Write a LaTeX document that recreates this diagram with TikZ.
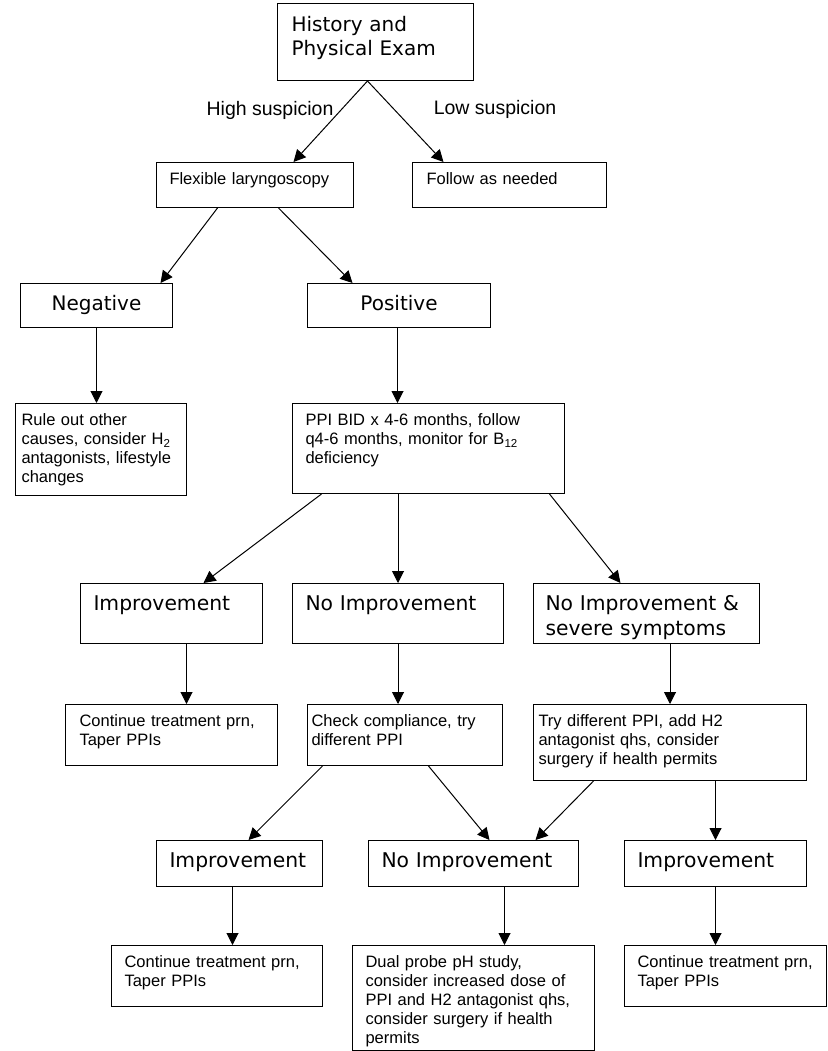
\documentclass[tikz,border=0pt]{standalone}
\usepackage{fontspec}
\setmainfont{Liberation Sans}
\newfontfamily\verd{DejaVu Sans}
\usetikzlibrary{arrows.meta}

\begin{document}
\begin{tikzpicture}[x=1pt,y=-1pt,line width=1pt,
  box/.style={draw,anchor=north west,inner xsep=13pt,inner ysep=0pt,align=left},
  small/.style={box,font=\fontsize{16.5}{19}\selectfont,text height=22pt},
  big/.style={box,font=\verd\fontsize{20.3}{25}\selectfont,text height=27pt},
  arr/.style={-{Triangle[length=12pt,width=12pt]}},
  lbl/.style={font=\fontsize{19.5}{23}\selectfont}]

\useasboundingbox (0,0) rectangle (827,1051);

% top
\node[big,font=\verd\fontsize{20}{24}\selectfont,inner xsep=14pt,text width=168pt,text height=28pt,text depth=49pt] (hist) at (277,3) {History and\\Physical Exam};
\node[lbl] (high) at (270,110) {High suspicion};
\node[lbl] (low) at (495,109) {Low suspicion};

\node[small,text width=171pt,text depth=23pt] (flex) at (156,162) {Flexible laryngoscopy};
\node[small,inner xsep=14pt,text width=166pt,text depth=23pt] (follow) at (412,162) {Follow as needed};

\node[big,align=center,font=\verd\fontsize{20}{24}\selectfont,text width=126pt,text depth=17pt] (neg) at (20,283) {Negative};
\node[big,align=center,font=\verd\fontsize{20}{24}\selectfont,text width=157pt,text depth=17pt] (pos) at (307,283) {Positive};

\node[small,inner xsep=6pt,text width=159pt,text depth=70pt] (rule) at (15,403) {Rule out other\\causes, consider H\textsubscript{2}\\antagonists, lifestyle\\changes};
\node[small,text width=246pt,text depth=68pt] (ppi) at (292,403) {PPI BID x 4-6 months, follow\\q4-6 months, monitor for B\textsubscript{12}\\deficiency};

% second level
\node[big,text width=156pt,text depth=33pt] (imp1) at (80,583) {Improvement};
\node[big,text width=185pt,text depth=33pt] (noimp1) at (292,583) {No Improvement};
\node[big,inner xsep=12pt,text width=202pt,text depth=33pt] (severe) at (533,583) {No Improvement \&\\severe symptoms};

\node[small,inner xsep=14pt,text width=184pt,text depth=39pt] (cont1) at (65,704) {Continue treatment prn,\\Taper PPIs};
\node[small,inner xsep=4pt,text width=187pt,text depth=39pt] (check) at (307,704) {Check compliance, try\\different PPI};
\node[small,inner xsep=5pt,text width=263pt,text depth=54pt] (try) at (533,704) {Try different PPI, add H2\\antagonist qhs, consider\\surgery if health permits};

% third level
\node[big,text width=140pt,text depth=19pt] (imp2) at (156,840) {Improvement};
\node[big,text width=184pt,text depth=19pt] (noimp2) at (368,840) {No Improvement};
\node[big,text width=156pt,text depth=19pt] (imp3) at (624,840) {Improvement};

\node[small,text width=185pt,text depth=39pt] (cont2) at (111,945) {Continue treatment prn,\\Taper PPIs};
\node[small,text width=216pt,text depth=83pt] (dual) at (352,945) {Dual probe pH study,\\consider increased dose of\\PPI and H2 antagonist qhs,\\consider surgery if health\\permits};
\node[small,text width=176pt,text depth=39pt] (cont3) at (624,945) {Continue treatment prn,\\Taper PPIs};

% arrows
\draw[arr] ([xshift=-8pt]hist.south) -- ([xshift=38.5pt]flex.north);
\draw[arr] ([xshift=-8pt]hist.south) -- ([xshift=-66pt]follow.north);
\draw[arr] ([xshift=-37.5pt]flex.south) -- ([xshift=64pt]neg.north);
\draw[arr] ([xshift=23.5pt]flex.south) -- ([xshift=-46.5pt]pos.north);
\draw[arr] (neg.south) -- (neg.south |- rule.north);
\draw[arr] ([xshift=-1.5pt]pos.south) -- ([xshift=-1.5pt]pos.south |- ppi.north);

\draw[arr] ([xshift=-107pt]ppi.south) -- ([xshift=32pt]imp1.north);
\draw[arr] (ppi.south -| noimp1.north) -- (noimp1.north);
\draw[arr] ([xshift=121pt]ppi.south) -- ([xshift=-26pt]severe.north);
\draw[arr] ([xshift=15pt]imp1.south) -- ([xshift=15pt]imp1.south |- cont1.north);
\draw[arr] (noimp1.south) -- (noimp1.south |- check.north);
\draw[arr] (severe.south -| try.north) -- (try.north);

\draw[arr] ([xshift=-82.5pt]check.south) -- ([xshift=9pt]imp2.north);
\draw[arr] ([xshift=23.5pt]check.south) -- ([xshift=16pt]noimp2.north);
\draw[arr] ([xshift=-76.5pt]try.south) -- ([xshift=62pt]noimp2.north);
\draw[arr] (try.south -| imp3.north) -- (imp3.north);
\draw[arr] ([xshift=-7pt]imp2.south) -- ([xshift=-7pt]imp2.south |- cont2.north);
\draw[arr] ([xshift=31pt]noimp2.south) -- ([xshift=31pt]noimp2.south |- dual.north);
\draw[arr] (imp3.south) -- (imp3.south |- cont3.north);

\end{tikzpicture}
\end{document}
